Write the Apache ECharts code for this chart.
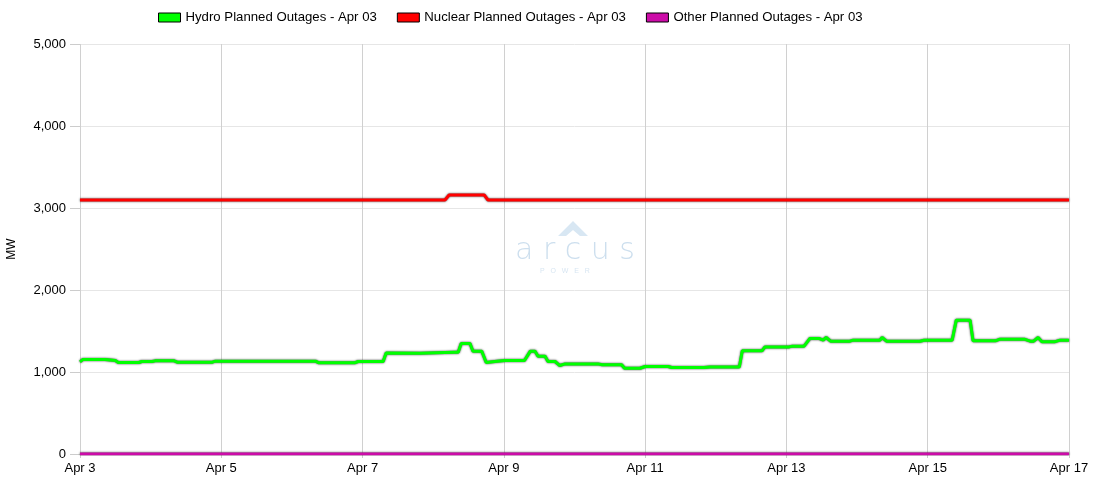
<!DOCTYPE html>
<html>
<head>
<meta charset="utf-8">
<script src="https://cdn.jsdelivr.net/npm/echarts@6/dist/echarts.min.js"></script>
<style>
  html, body { margin: 0; padding: 0; background: #fff; }
  #chart { width: 1100px; height: 500px; }
</style>
</head>
<body>
<div id="chart"></div>
<script>
// hours since Apr 3 00:00 and MW at each step
const hydroHours = [0, 1, 8.5, 9, 12, 13, 20, 21, 24.5, 25.5, 32, 33, 45, 46, 80, 81, 93.5, 94.5, 103, 104,
  115.5, 127, 128.5, 129.5, 132.5, 133.5, 136.5, 138, 141.7, 144.4, 151, 153, 154.6, 155.6, 158, 159, 161.4,
  163, 164.8, 176, 177.4, 184, 185, 190.3, 192, 199.8, 201, 212, 214, 224, 225, 231.7, 232.7, 241, 242, 246,
  248, 251, 252.5, 253.5, 255, 261.6, 262.7, 271.8, 272.5, 274, 285.4, 286.8, 296.3, 297.7, 302.4, 303.4,
  311, 312.6, 320.8, 321.4, 322.8, 324, 325.5, 326.8, 331.3, 333, 336]
const hydroValues = [1123, 1153, 1153, 1140, 1140, 1116, 1116, 1128, 1128, 1136, 1136, 1120, 1120, 1132, 1132, 1114, 1114, 1128, 1128, 1233,
  1228, 1242, 1242, 1348, 1348, 1254, 1254, 1116, 1132, 1140, 1140, 1254, 1254, 1193, 1193, 1128, 1128,
  1079, 1099, 1099, 1089, 1089, 1046, 1046, 1067, 1067, 1055, 1055, 1062, 1062, 1258, 1258, 1306, 1306, 1315, 1315,
  1409, 1409, 1388, 1421, 1376, 1376, 1388, 1388, 1421, 1376, 1376, 1388, 1388, 1632, 1632, 1380,
  1380, 1400, 1400, 1421, 1376, 1376, 1421, 1370, 1370, 1388, 1388]

const nuclearHours = [0, 124, 125.4, 137.3, 138.6, 336]
const nuclearValues = [3098, 3098, 3159, 3159, 3098, 3098]

const otherHours = [0, 336]
const otherValues = [0, 0]

const dayLabels = ['Apr 3', 'Apr 5', 'Apr 7', 'Apr 9', 'Apr 11', 'Apr 13', 'Apr 15', 'Apr 17']

const seriesNames = ['Hydro Planned Outages - Apr 03', 'Nuclear Planned Outages - Apr 03', 'Other Planned Outages - Apr 03']
const seriesColors = ['#00ff00', '#ff0000', '#cc0ca8']

const pairs = (hours, values) => hours.map((h, i) => [h, values[i]])

const chart = echarts.init(document.getElementById('chart'))

const makeSeries = (name, color, data) => {
  return {
    name: name,
    type: 'line',
    data: data,
    symbol: 'none',
    color: color,
    lineStyle: {
      width: 3,
      color: color,
      shadowColor: 'rgba(0,0,0,0.8)',
      shadowBlur: 2
    },
    animation: false
  }
}

const textFont = 'Arial, "Liberation Sans", sans-serif'

const option = {
  backgroundColor: '#fff',
  textStyle: { fontFamily: textFont },
  legend: {
    left: 153,
    top: 6,
    itemWidth: 22,
    itemHeight: 9,
    itemGap: 20,
    icon: 'rect',
    itemStyle: { borderColor: '#000', borderWidth: 1 },
    textStyle: { fontSize: 13.2, color: '#000', fontFamily: textFont },
    data: seriesNames
  },
  grid: { left: 80, right: 31, top: 44, bottom: 46, outerBoundsMode: 'none', containLabel: false },
  graphic: [
    {
      type: 'polygon',
      left: 558,
      top: 221,
      shape: { points: [[0, 15], [15, 0], [30, 15], [22, 15], [15, 9], [8, 15]] },
      style: { fill: '#d8e7f3' },
      silent: true
    },
    {
      type: 'text',
      left: 515,
      top: 236,
      style: { text: 'a r c u s', fill: '#cddfee', font: '300 30px "DejaVu Sans", sans-serif' },
      silent: true
    },
    {
      type: 'text',
      left: 540,
      top: 268,
      style: { text: 'P   O   W   E   R', fill: '#d8e6f2', font: '7px Arial, sans-serif' },
      silent: true
    }
  ],
  xAxis: {
    type: 'value',
    min: 0,
    max: 336,
    interval: 48,
    axisLine: { show: false },
    axisTick: { show: true, length: 4, lineStyle: { color: '#ccc' } },
    axisLabel: {
      color: '#000',
      fontSize: 13,
      margin: 8,
      formatter: (v) => dayLabels[Math.round(v / 48)]
    },
    splitLine: { show: true, lineStyle: { color: '#d0d0d0' } }
  },
  yAxis: {
    type: 'value',
    name: 'MW',
    nameLocation: 'middle',
    nameGap: 62,
    nameRotate: 90,
    nameTextStyle: { color: '#000', fontSize: 12 },
    min: 0,
    max: 5000,
    interval: 1000,
    axisLine: { show: false },
    axisTick: { show: true, length: 10, lineStyle: { color: '#ccc' } },
    axisLabel: {
      color: '#000',
      fontSize: 13,
      margin: 14,
      formatter: (v) => v.toLocaleString('en-US')
    },
    splitLine: { show: true, lineStyle: { color: '#e6e6e6' } }
  },
  series: [
    makeSeries(seriesNames[0], seriesColors[0], pairs(hydroHours, hydroValues)),
    makeSeries(seriesNames[1], seriesColors[1], pairs(nuclearHours, nuclearValues)),
    makeSeries(seriesNames[2], seriesColors[2], pairs(otherHours, otherValues))
  ]
}

chart.setOption(option)
</script>
</body>
</html>
